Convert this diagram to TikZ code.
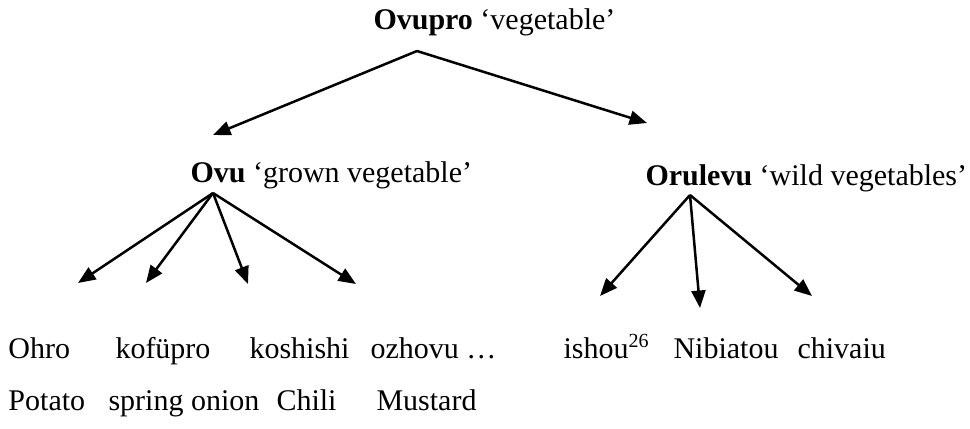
\documentclass[tikz,border=0pt]{standalone}
\usepackage{fontspec}
\setmainfont{Liberation Serif}
\usetikzlibrary{arrows.meta}

\begin{document}
\begin{tikzpicture}[x=0.4pt, y=-0.4pt,
  lbl/.style={anchor=base west, inner sep=0pt, font=\fontsize{12}{14}\selectfont},
  branch/.style={line width=1pt, -{Triangle[length=7pt,width=5.6pt]}}]
  \useasboundingbox (0,0) rectangle (970,428);

  % category labels
  \node[lbl] (top)  at (373,29)  {\textbf{Ovupro} `vegetable'};
  \node[lbl] (ovu)  at (190,182) {\textbf{Ovu} `grown vegetable'};
  \node[lbl] (oru)  at (645,185) {\textbf{Orulevu} `wild vegetables'};

  % vernacular names
  \node[lbl] (ohro) at (8,358)   {Ohro};
  \node[lbl] (kofu) at (115,358) {kofüpro};
  \node[lbl] (kosh) at (249,358) {koshishi};
  \node[lbl] (ozho) at (370,358) {ozhovu \ldots};
  \node[lbl] (isho) at (563,358) {ishou\textsuperscript{26}};
  \node[lbl] (nibi) at (673,358) {Nibiatou};
  \node[lbl] (chiv) at (797,358) {chivaiu};

  % English glosses
  \node[lbl] (pota) at (8,410)   {Potato};
  \node[lbl] (spri) at (108,410) {spring onion};
  \node[lbl] (chil) at (276,410) {Chili};
  \node[lbl] (must) at (376,410) {Mustard};

  % branch points and arrow ends
  \coordinate (topR) at (417,51);
  \coordinate (ovuT) at (213,135);
  \coordinate (oruT) at (647,123);

  \coordinate (ovuR) at (213,193);
  \coordinate (ohroT) at (78,283);
  \coordinate (kofuT) at (146,283);
  \coordinate (koshT) at (248,284);
  \coordinate (ozhoT) at (356,284);

  \coordinate (oruR) at (690,195);
  \coordinate (ishoT) at (600,296);
  \coordinate (nibiT) at (700,308);
  \coordinate (chivT) at (812,296);

  % arrows
  \draw[branch] (topR) -- (ovuT);
  \draw[branch] (topR) -- (oruT);

  \draw[branch] (ovuR) -- (ohroT);
  \draw[branch] (ovuR) -- (kofuT);
  \draw[branch] (ovuR) -- (koshT);
  \draw[branch] (ovuR) -- (ozhoT);

  \draw[branch] (oruR) -- (ishoT);
  \draw[branch] (oruR) -- (nibiT);
  \draw[branch] (oruR) -- (chivT);
\end{tikzpicture}
\end{document}
